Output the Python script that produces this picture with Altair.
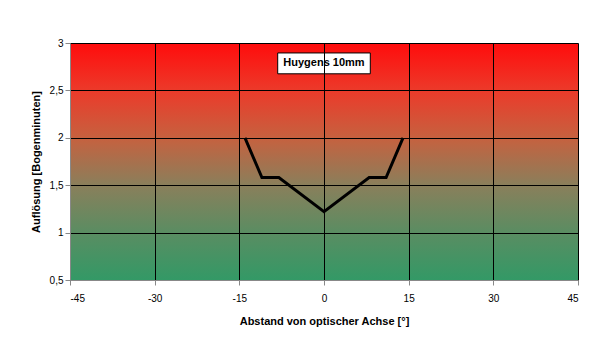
import altair as alt
import pandas as pd

# data
x_vals = [-14, -11, -8, 0, 8, 11, 14]
y_vals = [2.0, 1.58, 1.58, 1.22, 1.58, 1.58, 2.0]
x_ticks = [-45, -30, -15, 0, 15, 30, 45]
y_ticks = [0.5, 1, 1.5, 2, 2.5, 3]
label_text = ["Huygens 10mm"]
label_x = [0]
label_y = [2.785]
box_x = [-8.2]
box_x2 = [8.2]
box_y = [2.675]
box_y2 = [2.895]

W, H = 508, 237
FONT = "Liberation Sans"

df = pd.DataFrame({"x": x_vals, "y": y_vals})
lab = pd.DataFrame({"x": label_x, "y": label_y, "t": label_text,
                    "bx": box_x, "bx2": box_x2, "by": box_y, "by2": box_y2})

xscale = alt.Scale(domain=[-45, 45], nice=False, zero=False)
yscale = alt.Scale(domain=[0.5, 3], nice=False, zero=False)

grad = alt.Gradient(
    gradient="linear",
    stops=[alt.GradientStop(color="#ff0c0c", offset=0),
           alt.GradientStop(color="#ec3a2a", offset=0.2),
           alt.GradientStop(color="#c6613f", offset=0.4),
           alt.GradientStop(color="#8a7f5b", offset=0.6),
           alt.GradientStop(color="#5a8d62", offset=0.8),
           alt.GradientStop(color="#339966", offset=1)],
    x1=0, x2=0, y1=0, y2=1,
)

bg = alt.Chart(pd.DataFrame({"a": [0]})).mark_rect(color=grad).encode(
    x=alt.value(0), x2=alt.value(W), y=alt.value(0), y2=alt.value(H)
)

num_expr = "replace(replace(format(datum.value, '~g'), '.', ','), '\u2212', '-')"

line = alt.Chart(df).mark_line(color="black", strokeWidth=3).encode(
    x=alt.X("x:Q", scale=xscale,
            axis=alt.Axis(values=x_ticks, title="Abstand von optischer Achse [°]",
                          grid=True, gridColor="black", gridOpacity=1, gridWidth=1,
                          zindex=1, titlePadding=12, labelPadding=8,
                          labelExpr=num_expr)),
    y=alt.Y("y:Q", scale=yscale,
            axis=alt.Axis(values=y_ticks, title="Auflösung [Bogenminuten]",
                          grid=True, gridColor="black", gridOpacity=1, gridWidth=1,
                          zindex=1, titlePadding=8,
                          labelExpr=num_expr)),
)

box = alt.Chart(lab).mark_rect(fill="white", stroke="black", strokeWidth=1).encode(
    x="bx:Q", x2="bx2", y="by:Q", y2="by2"
)
txt = alt.Chart(lab).mark_text(font=FONT, fontSize=11, fontWeight="bold", color="black").encode(
    x="x:Q", y="y:Q", text="t:N"
)

chart = alt.layer(bg, line, box, txt).properties(
    width=W, height=H, autosize="none",
    padding={"left": 70, "top": 43, "right": 26, "bottom": 72},
).configure_view(stroke="#808080", strokeWidth=1).configure_axis(
    domainColor="black", tickColor="black",
    tickSize=5, labelFont=FONT, labelFontSize=11, labelColor="black",
    titleFont=FONT, titleFontSize=11, titleFontWeight="bold", titleColor="black",
).configure(background="white")

chart.save("out.html", embed_options={"renderer": "svg", "actions": False})
